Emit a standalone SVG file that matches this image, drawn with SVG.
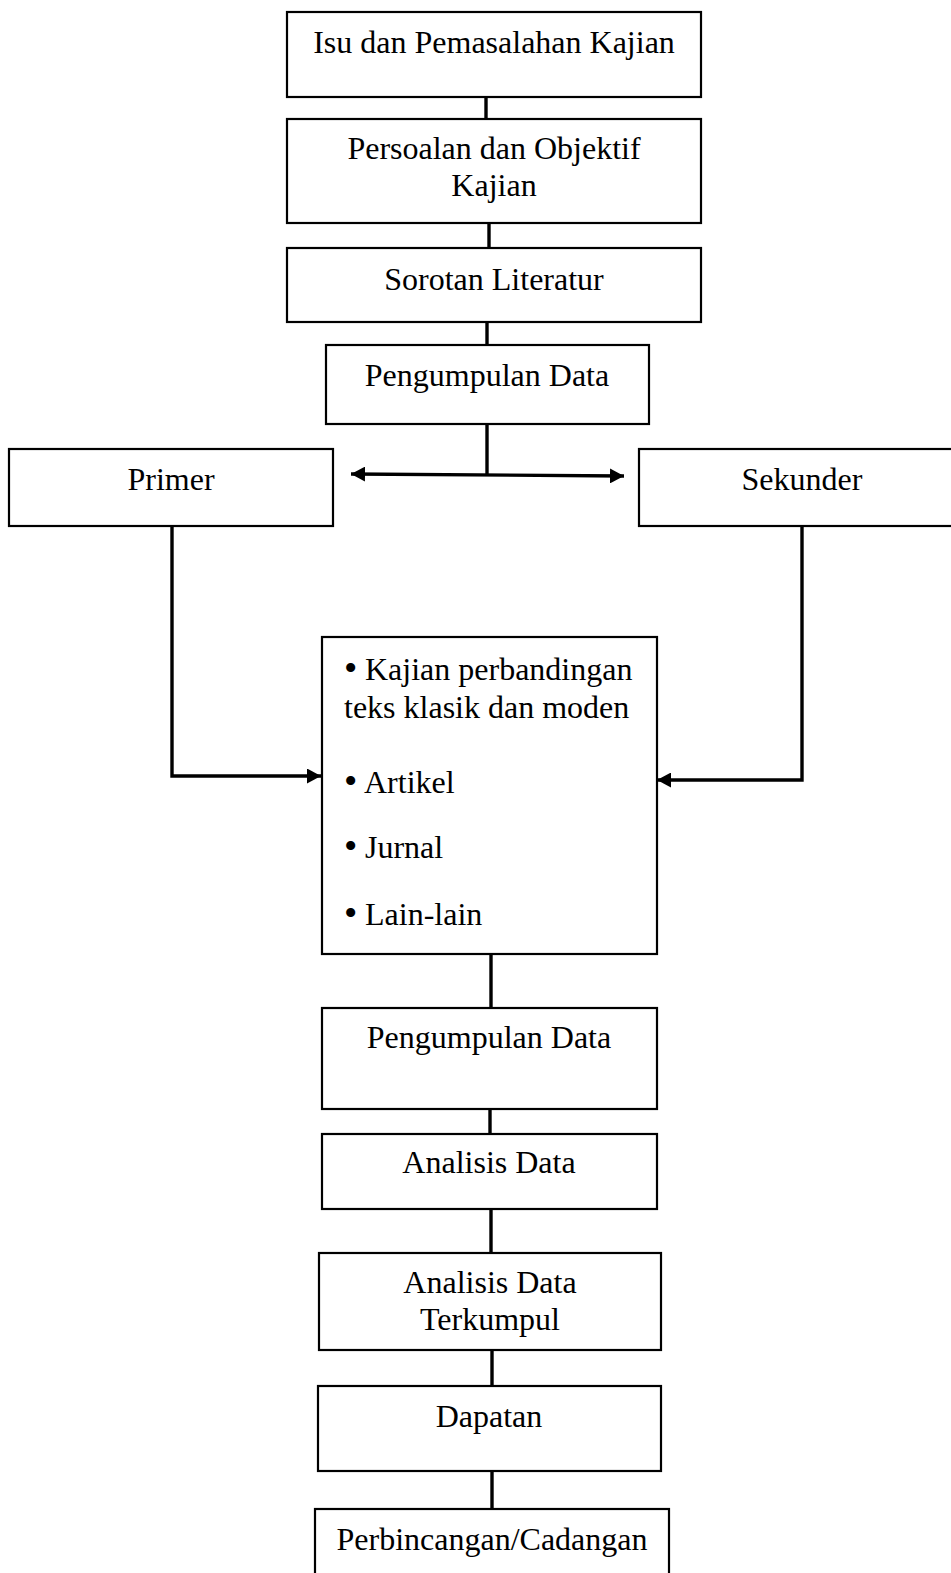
<svg xmlns="http://www.w3.org/2000/svg" width="951" height="1573" viewBox="0 0 951 1573">
<style>
.box{fill:#fff;stroke:#000;stroke-width:2.2}
.t{font-family:"Liberation Serif","Times New Roman",serif;font-size:32px;fill:#000}
.c{text-anchor:middle}
.b{font-size:38px}
.ln{fill:none;stroke:#000;stroke-width:3.4}
</style>
<defs>
<marker id="ah" viewBox="0 0 14 15" refX="14" refY="7.5" markerWidth="14" markerHeight="15" markerUnits="userSpaceOnUse" orient="auto-start-reverse">
<path d="M0 0 L14 7.5 L0 15 Z" fill="#000"/>
</marker>
</defs>
<rect width="951" height="1573" fill="#fff"/>
<g id="connectors">
<line class="ln" x1="486" y1="97" x2="486" y2="119"/>
<line class="ln" x1="489" y1="223" x2="489" y2="248"/>
<line class="ln" x1="487" y1="322" x2="487" y2="345"/>
<polyline class="ln" points="487,424 487,475"/>
<line class="ln" x1="351" y1="474" x2="624" y2="476" marker-start="url(#ah)" marker-end="url(#ah)"/>
<polyline class="ln" points="172,526 172,776 321,776" marker-end="url(#ah)"/>
<polyline class="ln" points="802,526 802,780 657,780" marker-end="url(#ah)"/>
<line class="ln" x1="491" y1="955" x2="491" y2="1008"/>
<line class="ln" x1="490" y1="1109" x2="490" y2="1134"/>
<line class="ln" x1="491" y1="1209" x2="491" y2="1253"/>
<line class="ln" x1="492" y1="1350" x2="492" y2="1386"/>
<line class="ln" x1="492" y1="1471" x2="492" y2="1509"/>
</g>
<g id="isu">
<rect class="box" x="287" y="12" width="414" height="85"/>
<text class="t c" x="494" y="53">Isu dan Pemasalahan Kajian</text>
</g>
<g id="persoalan">
<rect class="box" x="287" y="119" width="414" height="104"/>
<text class="t c" x="494" y="159">Persoalan dan Objektif</text>
<text class="t c" x="494" y="196">Kajian</text>
</g>
<g id="sorotan">
<rect class="box" x="287" y="248" width="414" height="74"/>
<text class="t c" x="494" y="290">Sorotan Literatur</text>
</g>
<g id="pengumpulan1">
<rect class="box" x="326" y="345" width="323" height="79"/>
<text class="t c" x="487" y="386">Pengumpulan Data</text>
</g>
<g id="primer">
<rect class="box" x="9" y="449" width="324" height="77"/>
<text class="t c" x="171" y="490">Primer</text>
</g>
<g id="sekunder">
<rect class="box" x="639" y="449" width="330" height="77"/>
<text class="t c" x="802" y="490">Sekunder</text>
</g>
<g id="sumber">
<rect class="box" x="322" y="637" width="335" height="317"/>
<text class="t" x="344" y="681"><tspan class="b">•</tspan><tspan x="365" y="680">Kajian perbandingan</tspan></text>
<text class="t" x="344" y="718">teks klasik dan moden</text>
<text class="t" x="344" y="794"><tspan class="b">•</tspan><tspan x="364" y="793">Artikel</tspan></text>
<text class="t" x="344" y="859"><tspan class="b">•</tspan><tspan x="365" y="858">Jurnal</tspan></text>
<text class="t" x="344" y="926"><tspan class="b">•</tspan><tspan x="365" y="925">Lain-lain</tspan></text>
</g>
<g id="pengumpulan2">
<rect class="box" x="322" y="1008" width="335" height="101"/>
<text class="t c" x="489" y="1048">Pengumpulan Data</text>
</g>
<g id="analisis">
<rect class="box" x="322" y="1134" width="335" height="75"/>
<text class="t c" x="489" y="1173">Analisis Data</text>
</g>
<g id="analisis-terkumpul">
<rect class="box" x="319" y="1253" width="342" height="97"/>
<text class="t c" x="490" y="1293">Analisis Data</text>
<text class="t c" x="490" y="1330">Terkumpul</text>
</g>
<g id="dapatan">
<rect class="box" x="318" y="1386" width="343" height="85"/>
<text class="t c" x="489" y="1427">Dapatan</text>
</g>
<g id="perbincangan">
<rect class="box" x="315" y="1509" width="354" height="80"/>
<text class="t c" x="492" y="1550">Perbincangan/Cadangan</text>
</g>
</svg>
